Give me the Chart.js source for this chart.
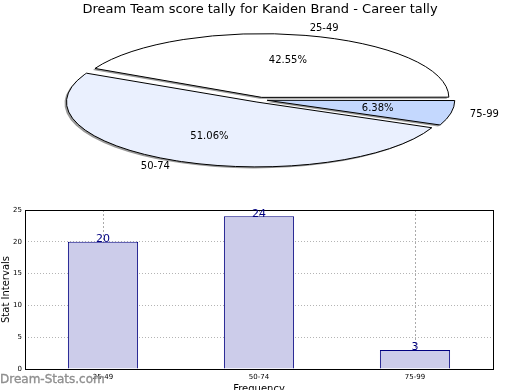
<!DOCTYPE html>
<html>
<head>
<meta charset="utf-8">
<script src="https://cdn.jsdelivr.net/npm/chart.js@4.4.1/dist/chart.umd.min.js"></script>
<style>
  html, body { margin: 0; padding: 0; background: #fff; }
  #page { position: relative; width: 520px; height: 390px; overflow: hidden; }
  #pie-chart { position: absolute; left: 0; top: 0; }
  #bar-chart { position: absolute; left: 0; top: 195px; }
  #mark { position: absolute; left: 0; top: 372px; font: 12px "DejaVu Sans", sans-serif; color: #8f8f8f; -webkit-text-stroke: 0.35px #8f8f8f; }
</style>
</head>
<body>
<div id="page">
  <canvas id="bar-chart" width="520" height="200"></canvas>
  <div id="mark">Dream-Stats.com</div>
  <canvas id="pie-chart" width="520" height="195"></canvas>
</div>
<script>
"use strict";
const title = "Dream Team score tally for Kaiden Brand - Career tally";
const categories = ["25-49", "50-74", "75-99"];
const counts = [20, 24, 3];
const sliceColors = ["#ffffff", "#eaf0fe", "#c4d8fe"];
const yMax = 25;
const yStep = 5;

const FONT = "DejaVu Sans";
// ellipse half axes of the flattened pie
const PIE_RX = 188;
const PIE_RY = 64;

// matplotlib goes counter clockwise from 3 o'clock, Chart.js clockwise
const pieLabels = categories.slice().reverse();
const pieValues = counts.slice().reverse();
const pieColors = sliceColors.slice().reverse();
const total = counts.reduce((a, b) => a + b, 0);

const squash = {
    id: "squash",
    beforeDatasetsDraw(chart) {
        const ctx = chart.ctx;
        const a = chart.getDatasetMeta(0).data[0];
        const r = a.outerRadius + 4;
        ctx.save();
        ctx.translate(a.x, a.y);
        ctx.scale(PIE_RX / r, PIE_RY / r);
        ctx.translate(-a.x, -a.y);
        const fill = ctx.fill;
        const stroke = ctx.stroke;
        // shadow on the fills only, strokes in screen pixels
        ctx.fill = function (...args) {
            this.shadowColor = "rgba(0,0,0,0.4)";
            this.shadowOffsetX = -2;
            this.shadowOffsetY = 1.5;
            fill.apply(this, args);
            this.shadowColor = "rgba(0,0,0,0)";
        };
        ctx.stroke = function (...args) {
            this.save();
            this.setTransform(1, 0, 0, 1, 0, 0);
            this.shadowColor = "rgba(0,0,0,0)";
            stroke.apply(this, args);
            this.restore();
        };
    },
    afterDatasetsDraw(chart) {
        const ctx = chart.ctx;
        delete ctx.fill;
        delete ctx.stroke;
        ctx.restore();
        const arcs = chart.getDatasetMeta(0).data;
        const r = arcs[0].outerRadius + 4;
        const sx = PIE_RX / r, sy = PIE_RY / r;
        ctx.save();
        ctx.font = `10px "${FONT}"`;
        ctx.fillStyle = "#000";
        ctx.textBaseline = "middle";
        arcs.forEach((arc, i) => {
            const mid = (arc.startAngle + arc.endAngle) / 2;
            const o = (arc.options.offset || 0) / 4;
            const at = k => [
                arc.x + (o + k * r) * Math.cos(mid) * sx,
                arc.y + (o + k * r) * Math.sin(mid) * sy
            ];
            const [lx, ly] = at(1.1);
            ctx.textAlign = Math.cos(mid) > 0 ? "left" : "right";
            ctx.fillText(pieLabels[i], lx, ly);
            const [px, py] = at(0.6);
            ctx.textAlign = "center";
            ctx.fillText((pieValues[i] / total * 100).toFixed(2) + "%", px, py);
        });
        ctx.restore();
    }
};

new Chart("pie-chart", {
    type: "pie",
    data: {
        labels: pieLabels,
        datasets: [{
                data: pieValues,
                backgroundColor: pieColors,
                borderColor: "#000",
                borderWidth: 1,
                offset: 24,
                clip: false,
            }],
    },
    options: {
        responsive: false,
        animation: false,
        rotation: 90,
        radius: 150,
        layout: { padding: { bottom: 17 } },
        plugins: {
            legend: { display: false },
            tooltip: { enabled: false },
            title: {
                display: true,
                text: title,
                color: "#000",
                font: { family: FONT, size: 13, weight: "normal" },
                padding: { top: 2, bottom: 4 },
            },
        },
    },
    plugins: [squash],
});

const frame = {
    id: "frame",
    afterDraw(chart) {
        const { ctx, chartArea: a } = chart;
        ctx.save();
        ctx.strokeStyle = "#000";
        ctx.lineWidth = 1;
        ctx.strokeRect(Math.round(a.left) + 0.5, Math.round(a.top) + 0.5,
            Math.round(a.right - a.left), Math.round(a.bottom - a.top));
        ctx.font = `11px "${FONT}"`;
        ctx.fillStyle = "#000080";
        ctx.textAlign = "center";
        ctx.textBaseline = "alphabetic";
        chart.getDatasetMeta(0).data.forEach((bar, i) => {
            ctx.fillText(String(counts[i]), bar.x, bar.y + 0.5);
        });
        ctx.restore();
    }
};

new Chart("bar-chart", {
    type: "bar",
    data: {
        labels: categories,
        datasets: [{
                data: counts,
                backgroundColor: "#ccccea",
                borderColor: "#000080",
                borderWidth: 1,
                barPercentage: 0.45,
                categoryPercentage: 1,
            }],
    },
    options: {
        responsive: false,
        animation: false,
        layout: { padding: { top: 15, right: 27, left: 0, bottom: 0 } },
        plugins: { legend: { display: false }, tooltip: { enabled: false } },
        scales: {
            x: {
                grid: { color: "#aaaaaa", drawTicks: false, offset: false },
                border: { display: false, dash: [2, 2] },
                ticks: { color: "#000", padding: 4, font: { family: FONT, size: 7 } },
                title: { display: true, text: "Frequency", color: "#000", padding: 0, font: { family: FONT, size: 10 } },
                afterFit: s => { s.height = 26; },
            },
            y: {
                min: 0,
                max: yMax,
                grid: { color: "#b4b4b4", drawTicks: false },
                border: { display: false, dash: [1, 2] },
                ticks: { stepSize: yStep, color: "#000", padding: 3, font: { family: FONT, size: 7 } },
                title: { display: true, text: "Stat Intervals", color: "#000", padding: 0, font: { family: FONT, size: 10 } },
                afterFit: s => { s.width = 25; },
            },
        },
    },
    plugins: [frame],
});
</script>
</body>
</html>
